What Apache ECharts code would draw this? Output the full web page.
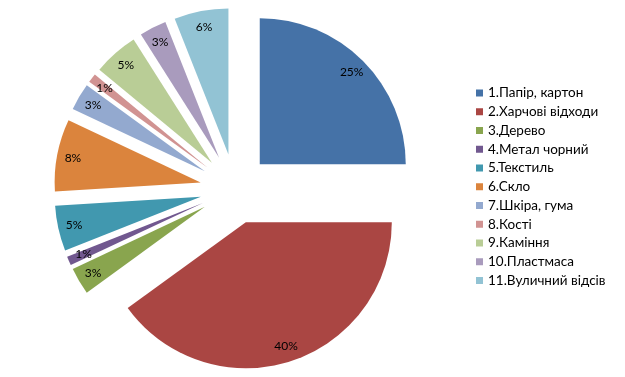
<!DOCTYPE html>
<html>
<head>
<meta charset="utf-8">
<script src="https://cdn.jsdelivr.net/npm/echarts@6/dist/echarts.min.js"></script>
<style>
  html, body { margin: 0; padding: 0; background: #fff; }
  #main { width: 625px; height: 377px; }
</style>
</head>
<body>
<div id="main"></div>
<script>
var myChart = echarts.init(document.getElementById('main'));

// склад відходів, %
var categories = ['1.Папір, картон', '2.Харчові відходи', '3.Дерево', '4.Метал чорний', '5.Текстиль',
    '6.Скло', '7.Шкіра, гума', '8.Кості', '9.Каміння', '10.Пластмаса', '11.Вуличний відсів'];
var values = [25, 40, 3, 1, 5, 8, 3, 1, 5, 3, 6];
var colors = ['#4572A7', '#AA4643', '#89A54E', '#71588F', '#4198AF', '#DB843D',
    '#93A9CF', '#D19392', '#B9CD96', '#A99BBD', '#92C3D4'];

var center = [235, 189];
var offset = 35;

var pieData = [];
var labelData = [];
for (var i = 0; i < categories.length; i++) {
    pieData.push({ name: categories[i], value: values[i], selected: true, itemStyle: { color: colors[i] } });
    labelData.push({ name: categories[i], value: values[i], selected: true });
}

option = {
    animation: false,
    color: colors,
    legend: {
        orient: 'vertical',
        left: 471,
        top: 81,
        itemWidth: 7,
        itemHeight: 7,
        itemGap: 4.75,
        icon: 'rect',
        data: categories,
        selectedMode: false,
        textStyle: {
            fontFamily: 'Lato',
            fontSize: 13.5,
            lineHeight: 13.5,
            color: '#000'
        }
    },
    series: [{
        type: 'pie',
        center: center,
        radius: 146,
        startAngle: 90,
        clockwise: true,
        selectedMode: 'multiple',
        selectedOffset: offset,
        silent: true,
        label: { show: false },
        labelLine: { show: false },
        data: pieData
    }, {
        // прозорий шар тільки для підписів
        type: 'pie',
        center: center,
        radius: [108, 146],
        startAngle: 90,
        clockwise: true,
        selectedMode: 'multiple',
        selectedOffset: offset,
        silent: true,
        itemStyle: { color: 'rgba(0,0,0,0)' },
        label: {
            show: true,
            position: 'inside',
            formatter: '{d}%',
            fontFamily: 'Lato',
            fontSize: 12,
            color: '#000'
        },
        labelLine: { show: false },
        data: labelData
    }]
};

myChart.setOption(option);
window.onresize = myChart.resize;
</script>
</body>
</html>
